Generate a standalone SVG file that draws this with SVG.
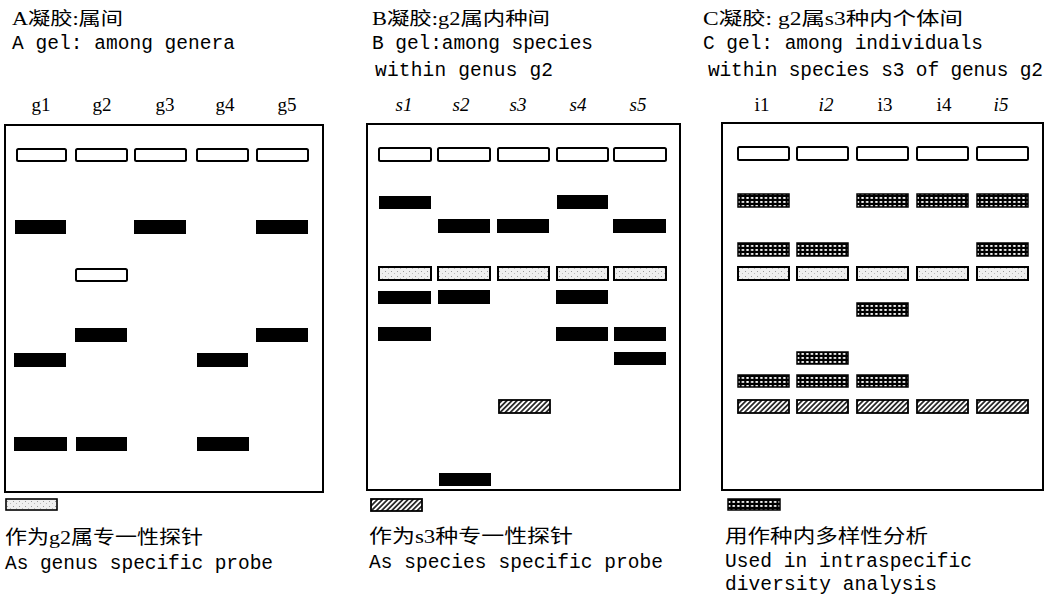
<svg xmlns="http://www.w3.org/2000/svg" width="1058" height="594" viewBox="0 0 1058 594">
<defs>
<pattern id="hatch" width="3.6" height="3.6" patternUnits="userSpaceOnUse" patternTransform="rotate(45)">
<rect width="3.6" height="3.6" fill="#fff"/>
<line x1="0.9" y1="0" x2="0.9" y2="3.6" stroke="#000" stroke-width="1.5"/>
</pattern>
<pattern id="grid" width="4.6" height="4" patternUnits="userSpaceOnUse">
<rect width="4.6" height="4" fill="#000"/>
<rect x="1.2" y="1" width="2.3" height="1.9" fill="#fff"/>
</pattern>
<pattern id="stip" width="6" height="5" patternUnits="userSpaceOnUse">
<rect width="6" height="5" fill="#efefef"/>
<rect x="1" y="1" width="1" height="1" fill="#999"/>
<rect x="4" y="3" width="1" height="1" fill="#bbb"/>
</pattern>
</defs>
<style>
.box{fill:#fff;stroke:#000;stroke-width:2}
.well{fill:#fff;stroke:#000;stroke-width:2}
.blk{fill:#000}
.stip{fill:url(#stip);stroke:#000;stroke-width:2}
.hat{fill:url(#hatch);stroke:#000;stroke-width:1.8}
.grd{fill:url(#grid);stroke:#000;stroke-width:1.5}
.cn{font-family:"Liberation Serif","Noto Sans CJK SC",serif;font-size:18px;fill:#000}
.cnb{font-family:"Liberation Serif","Noto Sans CJK SC",serif;font-size:19px;fill:#000}
.mono{font-family:"Liberation Mono",monospace;font-size:19.5px;fill:#000}
.lab{font-family:"Liberation Serif",serif;font-size:19px;fill:#000;text-anchor:middle}
.it{font-style:italic}
</style>
<rect width="1058" height="594" fill="#fff"/>

<g id="gel-A">
<text class="cn" x="12" y="25" textLength="111" lengthAdjust="spacingAndGlyphs">A凝胶:属间</text>
<text class="mono" x="12" y="49" textLength="223">A gel: among genera</text>
<text class="lab" x="41" y="111">g1</text>
<text class="lab" x="102" y="111">g2</text>
<text class="lab" x="165" y="111">g3</text>
<text class="lab" x="225" y="111">g4</text>
<text class="lab" x="287" y="111">g5</text>
<rect class="box" x="5" y="125" width="318" height="367"/>
<rect class="well" x="17" y="149" width="49" height="12" rx="1.5"/>
<rect class="well" x="76" y="149" width="51" height="12" rx="1.5"/>
<rect class="well" x="135" y="149" width="51" height="12" rx="1.5"/>
<rect class="well" x="197" y="149" width="51" height="12" rx="1.5"/>
<rect class="well" x="257" y="149" width="51" height="12" rx="1.5"/>
<rect class="blk" x="15" y="220" width="51" height="14"/>
<rect class="blk" x="134" y="220" width="52" height="14"/>
<rect class="blk" x="256" y="220" width="52" height="14"/>
<rect class="well" x="76" y="269" width="51" height="12" rx="1.5"/>
<rect class="blk" x="75" y="328" width="52" height="14"/>
<rect class="blk" x="256" y="328" width="52" height="14"/>
<rect class="blk" x="14" y="353" width="52" height="14"/>
<rect class="blk" x="197" y="353" width="51" height="14"/>
<rect class="blk" x="14" y="437" width="53" height="14"/>
<rect class="blk" x="76" y="437" width="51" height="14"/>
<rect class="blk" x="197" y="437" width="52" height="14"/>
<rect class="stip" x="6" y="499" width="51" height="11" style="stroke-width:1.6"/>
<text class="cnb" x="5" y="544" textLength="198" lengthAdjust="spacingAndGlyphs">作为g2属专一性探针</text>
<text class="mono" x="5" y="569" textLength="268">As genus specific probe</text>
</g>

<g id="gel-B">
<text class="cn" x="372" y="25" textLength="178" lengthAdjust="spacingAndGlyphs">B凝胶:g2属内种间</text>
<text class="mono" x="372" y="49" textLength="221">B gel:among species</text>
<text class="mono" x="375" y="76" textLength="178">within genus g2</text>
<text class="lab it" x="404" y="111">s1</text>
<text class="lab it" x="461" y="111">s2</text>
<text class="lab it" x="518" y="111">s3</text>
<text class="lab it" x="578" y="111">s4</text>
<text class="lab it" x="638" y="111">s5</text>
<rect class="box" x="367" y="124" width="313" height="366"/>
<rect class="well" x="379" y="148" width="52" height="13" rx="1.5"/>
<rect class="well" x="438" y="148" width="52" height="13" rx="1.5"/>
<rect class="well" x="498" y="148" width="51" height="13" rx="1.5"/>
<rect class="well" x="557" y="148" width="51" height="13" rx="1.5"/>
<rect class="well" x="614" y="148" width="52" height="13" rx="1.5"/>
<rect class="blk" x="379" y="196" width="52" height="13"/>
<rect class="blk" x="557" y="195" width="51" height="14"/>
<rect class="blk" x="438" y="219" width="52" height="14"/>
<rect class="blk" x="497" y="219" width="52" height="14"/>
<rect class="blk" x="613" y="219" width="53" height="14"/>
<rect class="stip" x="379" y="267" width="52" height="13"/>
<rect class="stip" x="438" y="267" width="52" height="13"/>
<rect class="stip" x="498" y="267" width="51" height="13"/>
<rect class="stip" x="557" y="267" width="51" height="13"/>
<rect class="stip" x="614" y="267" width="52" height="13"/>
<rect class="blk" x="378" y="291" width="53" height="13"/>
<rect class="blk" x="438" y="290" width="52" height="14"/>
<rect class="blk" x="556" y="290" width="52" height="14"/>
<rect class="blk" x="378" y="327" width="53" height="14"/>
<rect class="blk" x="556" y="327" width="52" height="14"/>
<rect class="blk" x="614" y="327" width="52" height="14"/>
<rect class="blk" x="614" y="352" width="52" height="13"/>
<rect class="hat" x="499" y="400" width="51" height="13"/>
<rect class="blk" x="439" y="473" width="52" height="13"/>
<rect class="hat" x="371" y="499" width="51" height="12"/>
<text class="cnb" x="369" y="543" textLength="204" lengthAdjust="spacingAndGlyphs">作为s3种专一性探针</text>
<text class="mono" x="369" y="568" textLength="294">As species specific probe</text>
</g>

<g id="gel-C">
<text class="cn" x="703" y="25" textLength="260" lengthAdjust="spacingAndGlyphs">C凝胶: g2属s3种内个体间</text>
<text class="mono" x="703" y="49" textLength="280">C gel: among individuals</text>
<text class="mono" x="708" y="76" textLength="335">within species s3 of genus g2</text>
<text class="lab" x="762" y="111">i1</text>
<text class="lab it" x="826" y="111">i2</text>
<text class="lab" x="885" y="111">i3</text>
<text class="lab" x="944" y="111">i4</text>
<text class="lab it" x="1001" y="111">i5</text>
<rect class="box" x="722" y="123" width="321" height="367"/>
<rect class="well" x="738" y="147" width="51" height="13" rx="1.5"/>
<rect class="well" x="797" y="147" width="51" height="13" rx="1.5"/>
<rect class="well" x="857" y="147" width="51" height="13" rx="1.5"/>
<rect class="well" x="917" y="147" width="51" height="13" rx="1.5"/>
<rect class="well" x="977" y="147" width="51" height="13" rx="1.5"/>
<rect class="grd" x="738" y="194" width="51" height="13"/>
<rect class="grd" x="857" y="194" width="51" height="13"/>
<rect class="grd" x="917" y="194" width="51" height="13"/>
<rect class="grd" x="977" y="194" width="51" height="13"/>
<rect class="grd" x="738" y="243" width="51" height="13"/>
<rect class="grd" x="797" y="243" width="51" height="13"/>
<rect class="grd" x="977" y="243" width="51" height="13"/>
<rect class="stip" x="738" y="267" width="51" height="13"/>
<rect class="stip" x="797" y="267" width="51" height="13"/>
<rect class="stip" x="857" y="267" width="51" height="13"/>
<rect class="stip" x="917" y="267" width="51" height="13"/>
<rect class="stip" x="977" y="267" width="51" height="13"/>
<rect class="grd" x="857" y="303" width="51" height="13"/>
<rect class="grd" x="797" y="352" width="51" height="12"/>
<rect class="grd" x="738" y="375" width="51" height="12"/>
<rect class="grd" x="797" y="375" width="51" height="12"/>
<rect class="grd" x="857" y="375" width="51" height="12"/>
<rect class="hat" x="738" y="400" width="51" height="13"/>
<rect class="hat" x="797" y="400" width="51" height="13"/>
<rect class="hat" x="857" y="400" width="51" height="13"/>
<rect class="hat" x="917" y="400" width="51" height="13"/>
<rect class="hat" x="977" y="400" width="51" height="13"/>
<rect class="grd" x="728" y="499" width="52" height="11"/>
<text class="cnb" x="725" y="543" textLength="203" lengthAdjust="spacingAndGlyphs">用作种内多样性分析</text>
<text class="mono" x="725" y="567" textLength="247">Used in intraspecific</text>
<text class="mono" x="725" y="590" textLength="212">diversity analysis</text>
</g>
<g id="connectors"/>
</svg>
